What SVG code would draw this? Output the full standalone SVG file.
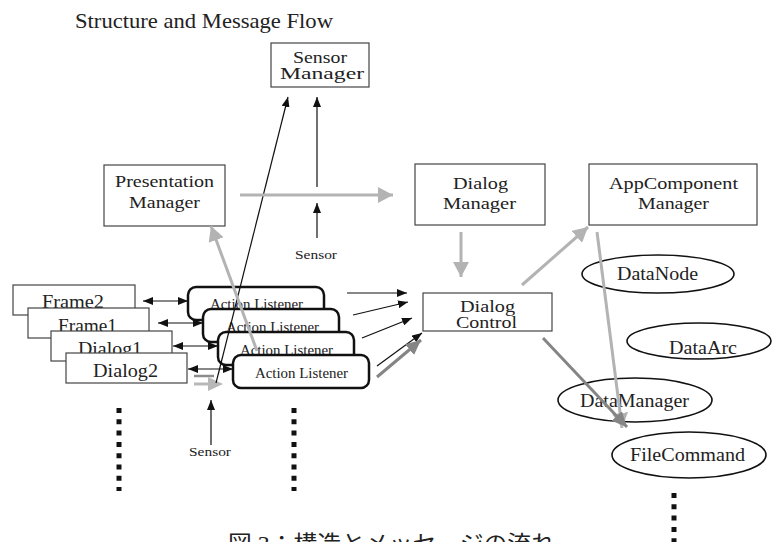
<svg xmlns="http://www.w3.org/2000/svg" width="772" height="542" viewBox="0 0 772 542">
<defs>
<style>
text{font-family:"Liberation Serif","Times New Roman","DejaVu Serif",serif;fill:#222}
.cap{font-family:"Liberation Serif","Noto Sans CJK JP",serif}
.box{fill:#fff;stroke:#444;stroke-width:1.2}
.al{fill:#fff;stroke:#111;stroke-width:2.5}
.el{fill:#fff;stroke:#111;stroke-width:1.6}
.b{stroke:#111;stroke-width:1.2;fill:none}
.g{stroke:#b3b3b3;stroke-width:3;fill:none}
.d{stroke:#858585;stroke-width:3;fill:none}
.dots{stroke:#111;stroke-width:5;stroke-dasharray:5 6.3;fill:none}
.t17{font-size:17px}
.t16{font-size:16px}
.t19{font-size:19px}
.t14{font-size:14px}
.t12{font-size:12px}
.t18{font-size:18px}
</style>
<marker id="ab" markerUnits="userSpaceOnUse" markerWidth="10" markerHeight="8" refX="10" refY="4" orient="auto-start-reverse"><path d="M0,0 L10,4 L0,8 z" fill="#111"/></marker>
<marker id="ag" markerUnits="userSpaceOnUse" markerWidth="16" markerHeight="16" refX="15" refY="8" orient="auto"><path d="M0,0 L15,8 L0,16 z" fill="#b3b3b3"/></marker>
<marker id="ad" markerUnits="userSpaceOnUse" markerWidth="16" markerHeight="14" refX="15" refY="7" orient="auto"><path d="M0,0 L15,7 L0,14 z" fill="#858585"/></marker>
</defs>
<rect width="772" height="542" fill="#fff"/>
<text x="75" y="28" font-size="22" textLength="258" lengthAdjust="spacingAndGlyphs">Structure and Message Flow</text>

<g id="sensor-manager">
<rect class="box" x="271" y="43" width="98" height="44"/>
<text class="t16" x="293" y="63" textLength="54" lengthAdjust="spacingAndGlyphs">Sensor</text>
<text class="t16" x="280" y="79" textLength="84" lengthAdjust="spacingAndGlyphs">Manager</text>
</g>
<g id="presentation-manager">
<rect class="box" x="104" y="165" width="121" height="61"/>
<text class="t17" x="115" y="187" textLength="99" lengthAdjust="spacingAndGlyphs">Presentation</text>
<text class="t17" x="129" y="208" textLength="71" lengthAdjust="spacingAndGlyphs">Manager</text>
</g>
<g id="dialog-manager">
<rect class="box" x="415" y="164" width="130" height="61"/>
<text class="t17" x="453" y="189" textLength="55" lengthAdjust="spacingAndGlyphs">Dialog</text>
<text class="t17" x="443" y="209" textLength="73" lengthAdjust="spacingAndGlyphs">Manager</text>
</g>
<g id="appcomponent-manager">
<rect class="box" x="589" y="164" width="168" height="61"/>
<text class="t17" x="609" y="189" textLength="129" lengthAdjust="spacingAndGlyphs">AppComponent</text>
<text class="t17" x="638" y="209" textLength="71" lengthAdjust="spacingAndGlyphs">Manager</text>
</g>
<g id="dialog-control">
<rect class="box" x="423" y="293" width="129" height="38"/>
<text class="t16" x="460" y="312" textLength="55" lengthAdjust="spacingAndGlyphs">Dialog</text>
<text class="t16" x="456" y="328" textLength="61" lengthAdjust="spacingAndGlyphs">Control</text>
</g>
<g id="datanode">
<ellipse class="el" cx="658" cy="274" rx="76" ry="19"/>
<text class="t18" x="617" y="280" textLength="81" lengthAdjust="spacingAndGlyphs">DataNode</text>
</g>
<g id="dataarc">
<ellipse class="el" cx="699" cy="341" rx="72" ry="18"/>
<text class="t18" x="669" y="354" textLength="68" lengthAdjust="spacingAndGlyphs">DataArc</text>
</g>
<g id="datamanager">
<ellipse class="el" cx="635" cy="400" rx="77" ry="22"/>
<text class="t18" x="580" y="407" textLength="109" lengthAdjust="spacingAndGlyphs">DataManager</text>
</g>
<g id="filecommand">
<ellipse class="el" cx="689" cy="455" rx="77" ry="23"/>
<text class="t18" x="630" y="461" textLength="115" lengthAdjust="spacingAndGlyphs">FileCommand</text>
</g>

<g id="frame2">
<rect class="box" x="13" y="285" width="122" height="30"/>
<text class="t19" x="42" y="308" textLength="62" lengthAdjust="spacingAndGlyphs">Frame2</text>
</g>
<g id="frame1">
<rect class="box" x="28" y="308" width="121" height="30"/>
<text class="t19" x="58" y="332" textLength="59" lengthAdjust="spacingAndGlyphs">Frame1</text>
</g>
<g id="dialog1">
<rect class="box" x="51" y="331" width="121" height="30"/>
<text class="t19" x="78" y="355" textLength="64" lengthAdjust="spacingAndGlyphs">Dialog1</text>
</g>
<g id="dialog2">
<rect class="box" x="66" y="353" width="121" height="30"/>
<text class="t19" x="93" y="377" textLength="65" lengthAdjust="spacingAndGlyphs">Dialog2</text>
</g>

<g id="action-listener-1">
<rect class="al" x="188" y="287" width="136" height="33" rx="8"/>
<text class="t14" x="210" y="309" textLength="93" lengthAdjust="spacingAndGlyphs">Action Listener</text>
</g>
<g id="action-listener-2">
<rect class="al" x="203" y="309" width="136" height="33" rx="8"/>
<text class="t14" x="226" y="332" textLength="93" lengthAdjust="spacingAndGlyphs">Action Listener</text>
</g>
<g id="action-listener-3">
<rect class="al" x="218" y="332" width="136" height="33" rx="8"/>
<text class="t14" x="240" y="355" textLength="93" lengthAdjust="spacingAndGlyphs">Action Listener</text>
</g>
<g id="action-listener-4">
<rect class="al" x="233" y="355" width="136" height="33" rx="8"/>
<text class="t14" x="255" y="378" textLength="93" lengthAdjust="spacingAndGlyphs">Action Listener</text>
</g>

<g id="sensor-labels">
<text class="t12" x="295" y="259" textLength="42" lengthAdjust="spacingAndGlyphs">Sensor</text>
<text class="t12" x="189" y="456" textLength="42" lengthAdjust="spacingAndGlyphs">Sensor</text>
</g>

<g id="connectors">
<line class="b" x1="143" y1="301" x2="188" y2="301" marker-start="url(#ab)" marker-end="url(#ab)"/>
<line class="b" x1="158" y1="323" x2="203" y2="323" marker-start="url(#ab)" marker-end="url(#ab)"/>
<line class="b" x1="173" y1="346" x2="218" y2="346" marker-start="url(#ab)" marker-end="url(#ab)"/>
<line class="b" x1="188" y1="369" x2="233" y2="369" marker-start="url(#ab)" marker-end="url(#ab)"/>
<line x1="194" y1="376" x2="214" y2="376" stroke="#8c8c8c" stroke-width="2.5"/>
<line x1="194" y1="384" x2="212" y2="384" stroke="#b8b8b8" stroke-width="3"/>
<path d="M208,377 L223,384 L208,391 z" fill="#b8b8b8"/>
<line class="b" x1="216" y1="383" x2="288" y2="97" marker-end="url(#ab)"/>
<line class="g" x1="257" y1="351" x2="211" y2="226" marker-end="url(#ag)"/>
<line class="g" x1="240" y1="195" x2="393" y2="195" stroke-width="3.5" marker-end="url(#ag)"/>
<line class="b" x1="317" y1="187" x2="317" y2="97" marker-end="url(#ab)"/>
<line class="b" x1="317" y1="238" x2="317" y2="203" marker-end="url(#ab)"/>
<line class="b" x1="211" y1="445" x2="211" y2="400" marker-end="url(#ab)"/>
<line class="b" x1="347" y1="293" x2="407" y2="293" marker-end="url(#ab)"/>
<line class="b" x1="353" y1="315" x2="408" y2="302" marker-end="url(#ab)"/>
<line class="b" x1="362" y1="338" x2="412" y2="318" marker-end="url(#ab)"/>
<line class="b" x1="377" y1="366" x2="422" y2="333" marker-end="url(#ab)"/>
<line class="d" x1="377" y1="377" x2="421" y2="340" stroke="#8a8a8a" marker-end="url(#ad)"/>
<line class="g" x1="461" y1="232" x2="461" y2="277" marker-end="url(#ag)"/>
<line class="g" x1="522" y1="285" x2="588" y2="227" marker-end="url(#ag)"/>
<line class="g" x1="597" y1="232" x2="622" y2="428" marker-end="url(#ag)"/>
<line class="d" x1="543" y1="338" x2="627" y2="427" marker-end="url(#ad)"/>
</g>

<g id="ellipsis-dots">
<line class="dots" x1="119" y1="408" x2="119" y2="491"/>
<line class="dots" x1="294" y1="408" x2="294" y2="491"/>
<line class="dots" x1="674" y1="493" x2="674" y2="542"/>
</g>

<text class="cap" x="228" y="551" font-size="22" textLength="327" lengthAdjust="spacingAndGlyphs">図 3：構造とメッセージの流れ</text>
</svg>
